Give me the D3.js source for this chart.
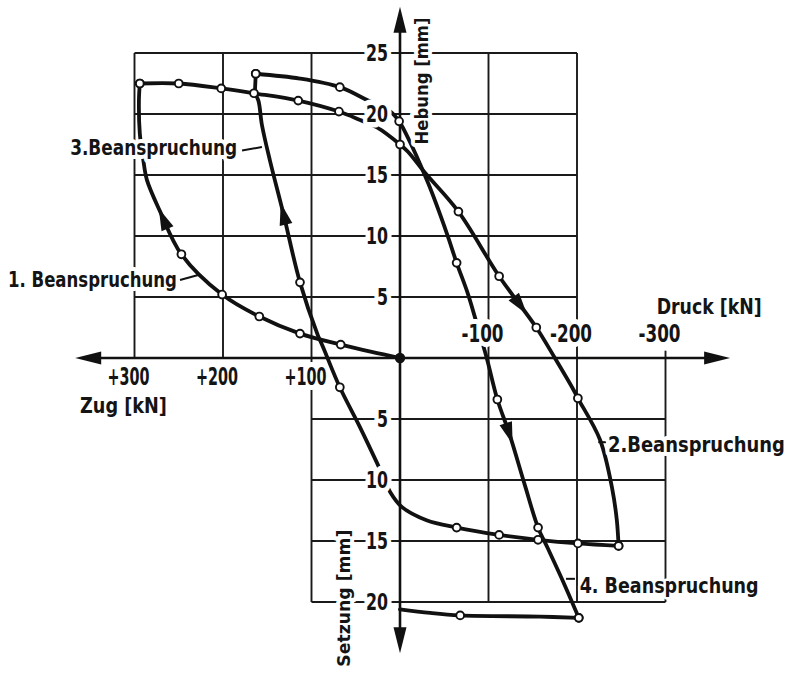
<!DOCTYPE html>
<html><head><meta charset="utf-8">
<script src="https://cdn.jsdelivr.net/npm/d3@7/dist/d3.min.js"></script>
<style>
html,body{margin:0;padding:0;background:#fff;}
svg{display:block;}
text{font-family:"Liberation Sans Narrow","DejaVu Sans Condensed","Arial Narrow",sans-serif;font-weight:bold;fill:#141414;}
</style></head><body>
<svg id="chart" width="800" height="676"></svg>
<script>
// ---------- data (kN: + = Zug, - = Druck ; mm: + = Hebung, - = Setzung) ----------
const xTicksZug    = [300, 200, 100];
const xTicksDruck  = [-100, -200, -300];
const yTicksHebung = [25, 20, 15, 10, 5];
const yTicksSetzung= [-5, -10, -15, -20];
const xTickLabels  = {"300":"+300","200":"+200","100":"+100","-100":"-100","-200":"-200","-300":"-300"};

// [kN, mm, measured point?]
const load1 = [[0,0,0],[32,0.5,0],[67,1.1,1],[113,2.0,1],[159,3.4,1],[201,5.2,1],[247,8.5,1],
  [271,12.0,0],[286,14.6,0],[290,16.2,0],[294,18.4,0],[295,21.1,0],[294,22.5,1]];
const load2 = [[294,22.5,1],[250,22.5,1],[202,22.1,1],[165,21.7,1],[115,21.1,1],[69,20.2,1],
  [45,19.5,0],[26,18.9,0],[0,17.5,1],[-9,16.9,0],[-28,15.2,0],[-66,12.0,1],[-112,6.7,1],
  [-154,2.5,1],[-175,0,0],[-196,-2.6,0],[-201,-3.3,1],[-226,-6.7,0],[-240,-10.8,0],
  [-245,-13.3,0],[-247,-15.4,1]];
const load3 = [[-247,-15.4,1],[-201,-15.2,1],[-156,-14.9,1],[-112,-14.5,1],[-64,-13.9,1],
  [-30,-13.3,0],[-2,-12.2,0],[11,-11.0,0],[26,-8.6,0],[45,-5.7,0],[68,-2.4,1],[87,0.9,0],
  [93,1.9,0],[113,6.2,1],[132,11.9,0],[147,16.2,0],[156,19.1,0],[160,21.1,0],[164,21.7,0]];
const creep3 = [[164,21.7,0],[163,23.3,1]];
const load4 = [[163,23.3,1],[113,22.9,0],[68,22.2,1],[36,21.1,0],[11,20.2,0],[1,19.4,1],
  [-6,18.5,0],[-32,14.3,0],[-53,10.2,0],[-64,7.8,1],[-77,5.2,0],[-88,2.5,0],[-98,0,0],
  [-110,-3.4,1],[-124,-6.3,0],[-141,-10.4,0],[-156,-13.9,1],[-167,-15.6,0],[-186,-18.6,0],
  [-202,-21.3,1]];
const unload4 = [[-202,-21.3,1],[-158,-21.2,0],[-68,-21.1,1],[-34,-20.9,0],[0,-20.6,0]];

// direction arrows on curves: [curve index, kN, mm]
const curveArrows = [[0,268,11.5],[2,132,11.9],[1,-138,4.3],[3,-122,-6.3]];

// load labels
const loadLabels   = ["1. Beanspruchung","2.Beanspruchung","3.Beanspruchung","4. Beanspruchung"];
const loadLabelAt  = [[252,5.8],[-235,-7.7],[184,16.6],[-203,-19.3]];
const loadLabelAnchor = ["end","start","end","start"];
const loadLabelWidth  = [169,177,167,179];
const loadLeaders  = [[[248.6,6.4],[228,6.8]],[[-224,-6.9],[-233,-6.9]],[[178.5,17.0],[156,17.3]],[[-187.6,-18.1],[-197.7,-18.1]]];

const axisExtentX = [367, -373];
const axisExtentY = [28.8, -24.2];

// ---------- scales ----------
const svg = d3.select("#chart");
const x = d3.scaleLinear().domain([300,-300]).range([134.5,665.5]);
const y = d3.scaleLinear().domain([25,-20]).range([53,602]);

// ---------- grid ----------
const g = svg.append("g").attr("stroke","#1a1a1a").attr("stroke-width",1.9).attr("fill","none");
const vGrid = [[300,25,0],[200,25,0],[100,25,-20],[-100,25,-20],[-200,25,-20],[-300,0.6,-20]];
vGrid.forEach(([v,a,b])=>g.append("line").attr("x1",x(v)).attr("x2",x(v)).attr("y1",y(a)).attr("y2",y(b)));
yTicksHebung.forEach(v=>g.append("line").attr("x1",x(300)).attr("x2",x(-200)).attr("y1",y(v)).attr("y2",y(v)));
yTicksSetzung.forEach(v=>g.append("line").attr("x1",x(100)).attr("x2",x(-300)).attr("y1",y(v)).attr("y2",y(v)));

// ---------- axes ----------
const ax = svg.append("g");
ax.append("line").attr("x1",x(axisExtentX[0])+20).attr("x2",x(axisExtentX[1])-20)
  .attr("y1",y(0)).attr("y2",y(0)).attr("stroke","#111").attr("stroke-width",2.6);
ax.append("line").attr("y1",y(axisExtentY[0])+20).attr("y2",y(axisExtentY[1])-20)
  .attr("x1",x(0)).attr("x2",x(0)).attr("stroke","#111").attr("stroke-width",2.6);
function tri(tx,ty,ang,len,hw){
  const c=Math.cos(ang), s=Math.sin(ang);
  const bx=tx-c*len, by=ty-s*len;
  return `M${tx},${ty}L${bx-s*hw},${by+c*hw}L${bx+s*hw},${by-c*hw}Z`;
}
ax.append("path").attr("d",tri(x(axisExtentX[0]),y(0),Math.PI,26,6.5)).attr("fill","#111");
ax.append("path").attr("d",tri(x(axisExtentX[1]),y(0),0,26,6.5)).attr("fill","#111");
ax.append("path").attr("d",tri(x(0),y(axisExtentY[0]),-Math.PI/2,26,6.5)).attr("fill","#111");
ax.append("path").attr("d",tri(x(0),y(axisExtentY[1]),Math.PI/2,26,6.5)).attr("fill","#111");

// ---------- curves ----------
const curves = [load1, load2, load3, load4, unload4, creep3];
const line = d3.line().x(d=>x(d[0])).y(d=>y(d[1])).curve(d3.curveCatmullRom.alpha(0.5));
const cg = svg.append("g");
const paths = curves.map(c=>cg.append("path").attr("d",line(c)).attr("fill","none")
  .attr("stroke","#111").attr("stroke-width",3.8).attr("stroke-linecap","round").attr("stroke-linejoin","round").node());

// arrows on curves
curveArrows.forEach(([ci,f,m])=>{
  const p = paths[ci], L = p.getTotalLength();
  const tx = x(f), ty = y(m);
  let best=0, bd=1e9;
  for(let l=0;l<=L;l+=0.5){const q=p.getPointAtLength(l);const d=(q.x-tx)**2+(q.y-ty)**2;if(d<bd){bd=d;best=l;}}
  const a=p.getPointAtLength(Math.max(0,best-6)), b=p.getPointAtLength(Math.min(L,best+6));
  const ang=Math.atan2(b.y-a.y,b.x-a.x);
  const tip=p.getPointAtLength(Math.min(L,best+10));
  cg.append("path").attr("d",tri(tip.x,tip.y,ang,22,6.5)).attr("fill","#111");
});

// measured points
const pts = [];
curves.forEach(c=>c.forEach(d=>{ if(d[2]) pts.push(d); }));
cg.selectAll("circle.m").data(pts).join("circle").attr("class","m")
  .attr("cx",d=>x(d[0])).attr("cy",d=>y(d[1])).attr("r",3.9)
  .attr("fill","#fff").attr("stroke","#111").attr("stroke-width",1.9);
cg.append("circle").attr("cx",x(0)).attr("cy",y(0)).attr("r",5.2).attr("fill","#111");

// ---------- texts ----------
const tg = svg.append("g").attr("stroke","#fff").attr("stroke-linejoin","round");
function halo(sel,w){return sel.attr("stroke-width",w).style("paint-order","stroke");}
const digitW = 11, signW = 9;
function tickLen(s){ return s.replace(/[^0-9]/g,"").length*digitW + (/[+-]/.test(s)?signW:0); }

// y tick labels
yTicksHebung.concat(yTicksSetzung).forEach(v=>{
  const s = String(Math.abs(v));
  halo(tg.append("text"),11).attr("x",x(0)-12).attr("y",y(v)).attr("dy","0.36em")
    .attr("text-anchor","end").attr("font-size",23)
    .attr("textLength",tickLen(s)).attr("lengthAdjust","spacingAndGlyphs").text(s);
});
// x tick labels
xTicksZug.forEach(v=>{
  const s = xTickLabels[v];
  halo(tg.append("text"),10).attr("x",x(v)-6).attr("y",y(0)+27).attr("text-anchor","middle")
    .attr("font-size",24).attr("textLength",tickLen(s)).attr("lengthAdjust","spacingAndGlyphs").text(s);
});
xTicksDruck.forEach(v=>{
  const s = xTickLabels[v];
  halo(tg.append("text"),10).attr("x",x(v)-6).attr("y",y(0)-16).attr("text-anchor","middle")
    .attr("font-size",24).attr("textLength",tickLen(s)).attr("lengthAdjust","spacingAndGlyphs").text(s);
});
// axis titles
halo(tg.append("text"),8).attr("x",x(361.6)).attr("y",y(-4.5)).attr("font-size",22)
  .attr("textLength",87).attr("lengthAdjust","spacingAndGlyphs").text("Zug [kN]");
halo(tg.append("text"),8).attr("x",x(-290)).attr("y",y(3.6)).attr("font-size",22)
  .attr("textLength",105).attr("lengthAdjust","spacingAndGlyphs").text("Druck [kN]");
halo(tg.append("text"),8).attr("transform",`translate(${x(-32)},${y(17.5)}) rotate(-90)`)
  .attr("font-size",18).attr("textLength",127).attr("lengthAdjust","spacingAndGlyphs").text("Hebung [mm]");
halo(tg.append("text"),8).attr("transform",`translate(${x(56.5)},${y(-25.3)}) rotate(-90)`)
  .attr("font-size",18).attr("textLength",137).attr("lengthAdjust","spacingAndGlyphs").text("Setzung [mm]");

// load labels + leaders
loadLabels.forEach((t,i)=>{
  const [a,b]=loadLeaders[i];
  svg.append("line").attr("x1",x(a[0])).attr("y1",y(a[1])).attr("x2",x(b[0])).attr("y2",y(b[1]))
    .attr("stroke","#111").attr("stroke-width",2);
  halo(tg.append("text"),i===3?5:8).attr("x",x(loadLabelAt[i][0])).attr("y",y(loadLabelAt[i][1]))
    .attr("text-anchor",loadLabelAnchor[i]).attr("font-size",20.5)
    .attr("textLength",loadLabelWidth[i]).attr("lengthAdjust","spacingAndGlyphs").text(t);
});
tg.raise();
</script>
</body></html>
